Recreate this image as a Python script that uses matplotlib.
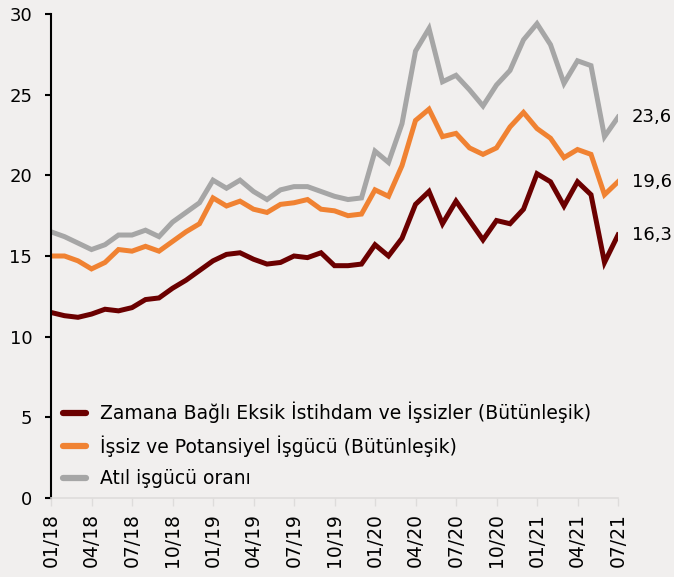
import matplotlib
matplotlib.use("Agg")
import matplotlib.pyplot as plt
import numpy as np

months = ["01/18","02/18","03/18","04/18","05/18","06/18","07/18","08/18","09/18","10/18","11/18","12/18",
          "01/19","02/19","03/19","04/19","05/19","06/19","07/19","08/19","09/19","10/19","11/19","12/19",
          "01/20","02/20","03/20","04/20","05/20","06/20","07/20","08/20","09/20","10/20","11/20","12/20",
          "01/21","02/21","03/21","04/21","05/21","06/21","07/21"]

zamana = [11.5, 11.3, 11.2, 11.4, 11.7, 11.6, 11.8, 12.3, 12.4, 13.0, 13.5, 14.1,
          14.7, 15.1, 15.2, 14.8, 14.5, 14.6, 15.0, 14.9, 15.2, 14.4, 14.4, 14.5,
          15.7, 15.0, 16.1, 18.2, 19.0, 17.0, 18.4, 17.2, 16.0, 17.2, 17.0, 17.9,
          20.1, 19.6, 18.1, 19.6, 18.8, 14.6, 16.3]

issiz = [15.0, 15.0, 14.7, 14.2, 14.6, 15.4, 15.3, 15.6, 15.3, 15.9, 16.5, 17.0,
         18.6, 18.1, 18.4, 17.9, 17.7, 18.2, 18.3, 18.5, 17.9, 17.8, 17.5, 17.6,
         19.1, 18.7, 20.6, 23.4, 24.1, 22.4, 22.6, 21.7, 21.3, 21.7, 23.0, 23.9,
         22.9, 22.3, 21.1, 21.6, 21.3, 18.8, 19.6]

atil = [16.5, 16.2, 15.8, 15.4, 15.7, 16.3, 16.3, 16.6, 16.2, 17.1, 17.7, 18.3,
        19.7, 19.2, 19.7, 19.0, 18.5, 19.1, 19.3, 19.3, 19.0, 18.7, 18.5, 18.6,
        21.5, 20.8, 23.2, 27.7, 29.1, 25.8, 26.2, 25.3, 24.3, 25.6, 26.5, 28.4,
        29.4, 28.1, 25.7, 27.1, 26.8, 22.4, 23.6]

labels = ["Zamana Bağlı Eksik İstihdam ve İşsizler (Bütünleşik)",
          "İşsiz ve Potansiyel İşgücü (Bütünleşik)",
          "Atıl işgücü oranı"]
colors = ["#6B0000", "#F08232", "#A6A6A6"]
series = [zamana, issiz, atil]

bg = "#F1EFEE"
plt.rcParams['font.family'] = ['DejaVu Sans']
fig = plt.figure(figsize=(6.74, 5.77), dpi=100, facecolor=bg)
ax = fig.add_axes([51/674, 1-498/577, (618-51)/674, (498-14)/577])
ax.set_facecolor(bg)

x = np.arange(len(months))
lines = []
for s, c, l in zip(series, colors, labels):
    ln, = ax.plot(x, s, color=c, lw=3.6, label=l, solid_joinstyle='miter')
    lines.append(ln)

ax.set_xlim(0, len(months) - 1)
ax.set_ylim(0, 30)
ax.set_yticks(range(0, 31, 5))
ax.set_xticks(x[::3])
ax.set_xticklabels(months[::3], rotation=90)

for sp in ["top", "right"]:
    ax.spines[sp].set_visible(False)
ax.spines["left"].set_color("black")
ax.spines["left"].set_linewidth(1.5)
ax.spines["bottom"].set_color("#DEDCDB")
ax.spines["bottom"].set_linewidth(1.2)
ax.tick_params(axis="y", length=4.5, width=1.5, color="black", labelsize=13, pad=9)
ax.tick_params(axis="x", length=5.5, width=1.0, color="#DEDCDB", labelsize=13.5, pad=5.5)

# End labels
for s in series:
    ax.annotate(f"{s[-1]:.1f}".replace(".", ","), xy=(x[-1], s[-1]), xytext=(10, 0),
                textcoords="offset points", va="center", ha="left", fontsize=13,
                annotation_clip=False)

leg = ax.legend(handles=lines, loc="center left", bbox_to_anchor=(0.021, 0.1095), frameon=False,
                fontsize=13.5, handlelength=1.23, handletextpad=0.75, labelspacing=0.65,
                borderaxespad=0, borderpad=0)
for h in leg.legend_handles:
    h.set_linewidth(4.5)
    h.set_solid_capstyle('round')

fig.savefig("out.png", dpi=100, facecolor=bg)
